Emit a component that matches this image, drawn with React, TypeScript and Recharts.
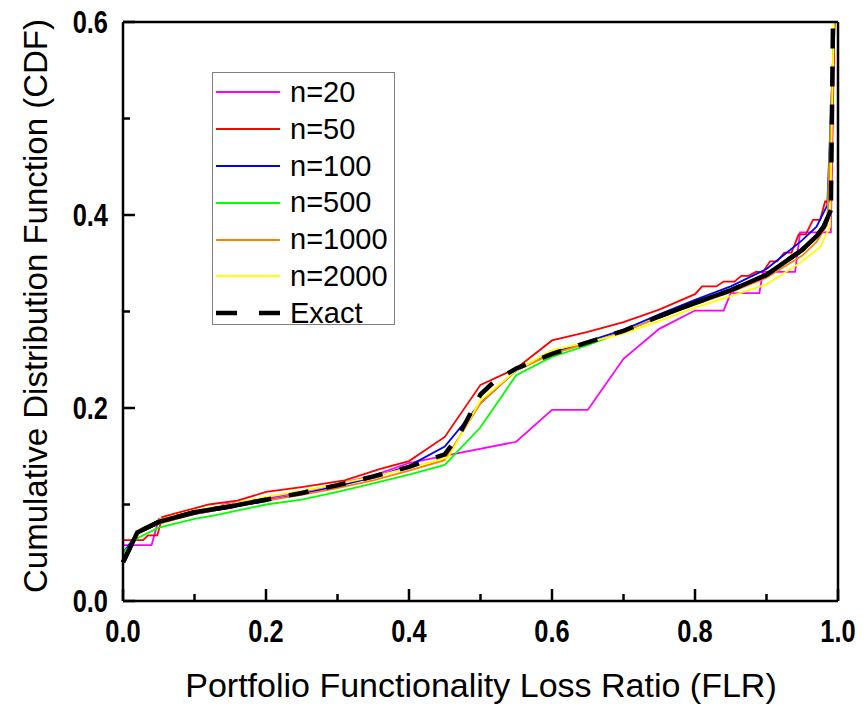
import React from 'react';
import { LineChart, Line, XAxis, YAxis, Legend } from 'recharts';

// [FLR, CDF] points
const n20: [number, number][] = [
  [0, 0.058], [0.04, 0.058], [0.05, 0.085], [0.1, 0.092], [0.13, 0.095], [0.14, 0.1],
  [0.2, 0.106], [0.25, 0.113], [0.3, 0.121], [0.35, 0.13], [0.4, 0.143], [0.46, 0.152],
  [0.55, 0.165], [0.6, 0.198], [0.65, 0.198], [0.7, 0.251], [0.75, 0.282], [0.8, 0.301],
  [0.84, 0.301], [0.85, 0.319], [0.89, 0.319], [0.895, 0.341], [0.94, 0.341], [0.947, 0.382],
  [0.99, 0.382], [0.995, 0.6],
];

const n50: [number, number][] = [
  [0, 0.063], [0.028, 0.063], [0.035, 0.068], [0.048, 0.068], [0.055, 0.087], [0.08, 0.092],
  [0.12, 0.1], [0.16, 0.104], [0.2, 0.113], [0.25, 0.118], [0.31, 0.125], [0.36, 0.137],
  [0.4, 0.145], [0.45, 0.17], [0.5, 0.224], [0.55, 0.241], [0.6, 0.27], [0.65, 0.279],
  [0.7, 0.289], [0.75, 0.302], [0.8, 0.318], [0.81, 0.326], [0.83, 0.326], [0.84, 0.331],
  [0.855, 0.331], [0.865, 0.337], [0.875, 0.337], [0.885, 0.341], [0.895, 0.341], [0.905, 0.352],
  [0.915, 0.352], [0.925, 0.361], [0.935, 0.361], [0.945, 0.38], [0.955, 0.38], [0.965, 0.395],
  [0.975, 0.395], [0.982, 0.414], [0.99, 0.414], [0.995, 0.6],
];

const n100: [number, number][] = [
  [0, 0.05], [0.02, 0.07], [0.05, 0.081], [0.1, 0.09], [0.15, 0.097], [0.2, 0.104],
  [0.25, 0.111], [0.3, 0.119], [0.35, 0.128], [0.4, 0.14], [0.45, 0.16], [0.5, 0.205],
  [0.55, 0.239], [0.6, 0.257], [0.65, 0.269], [0.7, 0.281], [0.75, 0.297], [0.8, 0.312],
  [0.85, 0.326], [0.9, 0.344], [0.95, 0.374], [0.97, 0.388], [0.985, 0.41], [0.995, 0.6],
];

const n500: [number, number][] = [
  [0, 0.05], [0.02, 0.065], [0.05, 0.076], [0.1, 0.085], [0.13, 0.089], [0.2, 0.1],
  [0.25, 0.105], [0.3, 0.113], [0.35, 0.122], [0.4, 0.131], [0.45, 0.141], [0.5, 0.18],
  [0.55, 0.234], [0.6, 0.253], [0.65, 0.265], [0.7, 0.279], [0.75, 0.294], [0.8, 0.308],
  [0.85, 0.321], [0.9, 0.336], [0.95, 0.362], [0.97, 0.377], [0.985, 0.393], [0.995, 0.6],
];

const n1000: [number, number][] = [
  [0, 0.045], [0.02, 0.07], [0.05, 0.08], [0.1, 0.09], [0.15, 0.097], [0.2, 0.104],
  [0.25, 0.11], [0.3, 0.117], [0.35, 0.125], [0.4, 0.135], [0.45, 0.146], [0.5, 0.205],
  [0.55, 0.239], [0.6, 0.256], [0.65, 0.267], [0.7, 0.279], [0.75, 0.294], [0.8, 0.307],
  [0.85, 0.32], [0.9, 0.335], [0.95, 0.358], [0.97, 0.372], [0.985, 0.39], [0.995, 0.6],
];

const n2000: [number, number][] = [
  [0, 0.045], [0.02, 0.072], [0.05, 0.084], [0.1, 0.094], [0.15, 0.1], [0.2, 0.108],
  [0.25, 0.114], [0.3, 0.121], [0.35, 0.129], [0.4, 0.138], [0.455, 0.149], [0.5, 0.208],
  [0.55, 0.239], [0.6, 0.26], [0.65, 0.268], [0.7, 0.277], [0.75, 0.29], [0.8, 0.304],
  [0.85, 0.316], [0.9, 0.328], [0.95, 0.352], [0.975, 0.367], [0.989, 0.388], [0.994, 0.6],
];

const exact: [number, number][] = [
  [0, 0.04], [0.02, 0.071], [0.05, 0.082], [0.1, 0.092], [0.15, 0.098], [0.2, 0.105],
  [0.25, 0.112], [0.3, 0.12], [0.35, 0.129], [0.4, 0.139], [0.45, 0.152], [0.47, 0.172],
  [0.5, 0.214], [0.52, 0.228], [0.55, 0.241], [0.6, 0.256], [0.65, 0.268], [0.7, 0.28],
  [0.75, 0.295], [0.8, 0.309], [0.85, 0.322], [0.9, 0.338], [0.95, 0.364], [0.97, 0.378],
  [0.98, 0.388], [0.99, 0.405], [0.993, 0.6],
];

const xTicks = [0, 0.1, 0.2, 0.3, 0.4, 0.5, 0.6, 0.7, 0.8, 0.9, 1.0];
const yTicks = [0, 0.1, 0.2, 0.3, 0.4, 0.5, 0.6];

const SERIES = [
  { name: 'n=20', points: n20, color: '#FF00FF' },
  { name: 'n=50', points: n50, color: '#FF0000' },
  { name: 'n=100', points: n100, color: '#0000FF' },
  { name: 'n=500', points: n500, color: '#00FF00' },
  { name: 'n=1000', points: n1000, color: '#FF8000' },
  { name: 'n=2000', points: n2000, color: '#FFFF00' },
];

const FONT = '"Liberation Sans", Arial, Helvetica, sans-serif';
const DASH = '20 18';

const isMajor = (v: number) => Math.round(v * 10) % 2 === 0;
const toRows = (pts: [number, number][]) => pts.map(([x, y]) => ({ x, y }));

// where the dense exact curve prints as a solid stroke in the original
const exactHead = exact.filter(([x]) => x <= 0.2);
const exactTail = exact.filter(([x]) => x >= 0.75 && x <= 0.99);

const tickLabel = (x: number, y: number, anchor: string, text: string) => (
  <text
    transform={`translate(${x} ${y}) scale(0.82 1)`}
    textAnchor={anchor}
    fontFamily={FONT}
    fontWeight="bold"
    fontSize={31}
    fill="#000"
  >
    {text}
  </text>
);

const BottomTick = ({ x, y, payload }: any) => (
  <g>
    <line x1={x} x2={x} y1={y} y2={y - (isMajor(payload.value) ? 12 : 7)} stroke="#000" strokeWidth={2.5} />
    {isMajor(payload.value) && tickLabel(x, y + 41, 'middle', payload.value.toFixed(1))}
  </g>
);

const TopTick = ({ x, y, payload }: any) => (
  <line x1={x} x2={x} y1={y} y2={y + (isMajor(payload.value) ? 12 : 7)} stroke="#000" strokeWidth={2.5} />
);

const LeftTick = ({ x, y, payload }: any) => (
  <g>
    <line x1={x} x2={x + (isMajor(payload.value) ? 12 : 7)} y1={y} y2={y} stroke="#000" strokeWidth={2.5} />
    {isMajor(payload.value) && tickLabel(x - 15, y + 11, 'end', payload.value.toFixed(1))}
  </g>
);

const RightTick = ({ x, y, payload }: any) => (
  <line x1={x} x2={x - (isMajor(payload.value) ? 12 : 7)} y1={y} y2={y} stroke="#000" strokeWidth={2.5} />
);

const XTitle = () => (
  <text x={481} y={697} textAnchor="middle" fontFamily={FONT} fontSize={34} fill="#000">
    Portfolio Functionality Loss Ratio (FLR)
  </text>
);

const YTitle = () => (
  <text transform="translate(47 306) rotate(-90)" textAnchor="middle" fontFamily={FONT} fontSize={33} fill="#000">
    Cumulative Distribution Function (CDF)
  </text>
);

const LegendBox = () => (
  <div
    style={{
      width: 183,
      height: 253,
      boxSizing: 'border-box',
      border: '1px solid #7f7f7f',
      background: '#fff',
      paddingTop: 1,
      fontFamily: FONT,
      fontSize: 29,
      color: '#000',
    }}
  >
    {[...SERIES, { name: 'Exact', color: '#000' }].map((s) => (
      <div key={s.name} style={{ display: 'flex', alignItems: 'center', height: 36.8 }}>
        <svg width={75} height={10} style={{ flex: 'none' }}>
          <line
            x1={3}
            x2={67}
            y1={5}
            y2={5}
            stroke={s.color}
            strokeWidth={s.name === 'Exact' ? 4.5 : 2}
            strokeDasharray={s.name === 'Exact' ? '21 22' : undefined}
          />
        </svg>
        <span style={{ marginLeft: 2, lineHeight: '36.8px' }}>{s.name}</span>
      </div>
    ))}
  </div>
);

const axisLine = { stroke: '#000', strokeWidth: 2.5 };

export default function App() {
  return (
    <div style={{ position: 'absolute', left: 0, top: 0, background: '#fff' }}>
      <LineChart width={864} height={706} margin={{ top: 21, right: 25, bottom: 5, left: 0 }}>
        <XAxis
          dataKey="x"
          type="number"
          domain={[0, 1]}
          ticks={xTicks}
          interval={0}
          height={100}
          tickSize={0}
          tickMargin={0}
          tickLine={false}
          axisLine={axisLine}
          tick={BottomTick}
          label={XTitle}
        />
        <XAxis
          xAxisId="top"
          orientation="top"
          dataKey="x"
          type="number"
          domain={[0, 1]}
          ticks={xTicks}
          interval={0}
          height={1}
          tickSize={0}
          tickMargin={0}
          tickLine={false}
          axisLine={axisLine}
          tick={TopTick}
        />
        <YAxis
          type="number"
          domain={[0, 0.6]}
          ticks={yTicks}
          interval={0}
          width={123}
          tickSize={0}
          tickMargin={0}
          tickLine={false}
          axisLine={axisLine}
          tick={LeftTick}
          label={YTitle}
        />
        <YAxis
          yAxisId="right"
          orientation="right"
          type="number"
          domain={[0, 0.6]}
          ticks={yTicks}
          interval={0}
          width={1}
          tickSize={0}
          tickMargin={0}
          tickLine={false}
          axisLine={axisLine}
          tick={RightTick}
        />
        <Legend
          layout="horizontal"
          verticalAlign="middle"
          align="center"
          wrapperStyle={{ left: 212, top: 72, width: 183, height: 253 }}
          content={LegendBox}
        />
        {SERIES.map((s) => (
          <Line
            key={s.name}
            name={s.name}
            data={toRows(s.points)}
            dataKey="y"
            type="linear"
            stroke={s.color}
            strokeWidth={1.8}
            dot={false}
            activeDot={false}
            isAnimationActive={false}
          />
        ))}
        <Line
          name="Exact"
          data={toRows(exact)}
          dataKey="y"
          type="linear"
          stroke="#000"
          strokeWidth={4.5}
          strokeDasharray={DASH}
          dot={false}
          activeDot={false}
          isAnimationActive={false}
        />
        <Line
          name="Exact (dense)"
          data={toRows(exactHead)}
          dataKey="y"
          type="linear"
          stroke="#000"
          strokeWidth={4.5}
          dot={false}
          activeDot={false}
          legendType="none"
          isAnimationActive={false}
        />
        <Line
          name="Exact (dense tail)"
          data={toRows(exactTail)}
          dataKey="y"
          type="linear"
          stroke="#000"
          strokeWidth={4.5}
          dot={false}
          activeDot={false}
          legendType="none"
          isAnimationActive={false}
        />
      </LineChart>
    </div>
  );
}
